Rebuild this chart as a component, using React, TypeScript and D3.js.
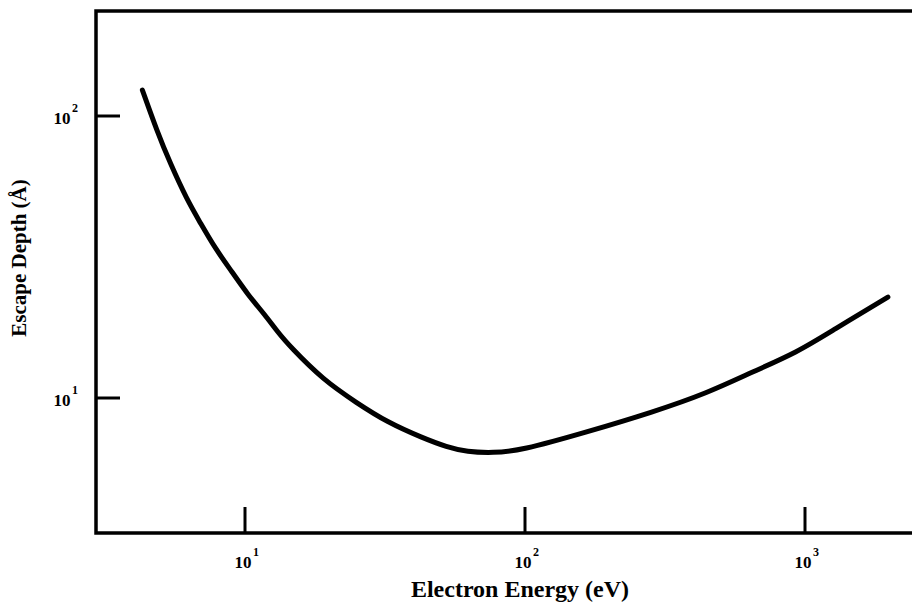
import React from "react";
import * as d3 from "d3";

// electron energy (eV) vs escape depth (Å)
const energy = [4.3, 4.85, 5.4, 6.21, 6.9, 7.81, 8.99, 10.25, 11.8, 13.1, 14.5, 19.0, 25.1, 32.1, 43.2, 52.6, 62, 77, 96, 166, 286, 447, 652, 935, 1259, 1977];
const depth = [123.6, 88.4, 68.1, 50.4, 42.1, 34.0, 28.0, 23.2, 19.7, 17.1, 15.2, 11.6, 9.6, 8.22, 7.21, 6.7, 6.44, 6.39, 6.5, 7.57, 8.91, 10.4, 12.4, 14.5, 17.4, 22.8];
const xTicks = [10, 100, 1000];
const yTicks = [10, 100];

const W = 912,
  H = 603;
const left = 96,
  top = 11,
  bottom = 533;

export default function App() {
  // log scales anchored on the decade ticks, extrapolated to the frame
  const x = d3.scaleLog().domain([10, 1000]).range([245, 805]);
  const y = d3.scaleLog().domain([10, 100]).range([398, 116]);

  const pts = energy.map((e, i) => [e, depth[i]] as [number, number]);
  const line = d3
    .line<[number, number]>()
    .x((d) => x(d[0]))
    .y((d) => y(d[1]))
    .curve(d3.curveBasis);

  const font = "'Liberation Serif', 'Times New Roman', serif";
  const exp = (v: number) => Math.round(Math.log10(v));

  return (
    <svg
      width={W}
      height={H}
      style={{ position: "absolute", left: 0, top: 0, background: "#fff" }}
      fontFamily={font}
      fontWeight="bold"
    >
      {/* frame: left, top, bottom (right side open) */}
      <path
        d={`M${W},${top}H${left}V${bottom}H${W}`}
        fill="none"
        stroke="#000"
        strokeWidth={3.5}
      />

      {/* x ticks */}
      {xTicks.map((t) => (
        <g key={"x" + t} transform={`translate(${x(t)},0)`}>
          <line y1={bottom} y2={bottom - 26} stroke="#000" strokeWidth={3} />
          <text x={-2} y={568} fontSize={17} textAnchor="middle">
            10
          </text>
          <text x={8} y={556} fontSize={12}>
            {exp(t)}
          </text>
        </g>
      ))}

      {/* y ticks */}
      {yTicks.map((t) => (
        <g key={"y" + t} transform={`translate(0,${y(t)})`}>
          <line x1={left} x2={left + 24} stroke="#000" strokeWidth={3} />
          <text x={62} y={8} fontSize={17} textAnchor="middle">
            10
          </text>
          <text x={72} y={-4} fontSize={12}>
            {exp(t)}
          </text>
        </g>
      ))}

      {/* curve */}
      <path
        d={line(pts) || ""}
        fill="none"
        stroke="#000"
        strokeWidth={5}
        strokeLinecap="round"
      />

      <text x={520} y={597} fontSize={24} textAnchor="middle">
        Electron Energy (eV)
      </text>
      <text
        transform="translate(26,258) rotate(-90)"
        fontSize={21}
        textAnchor="middle"
      >
        Escape Depth (Å)
      </text>
    </svg>
  );
}
